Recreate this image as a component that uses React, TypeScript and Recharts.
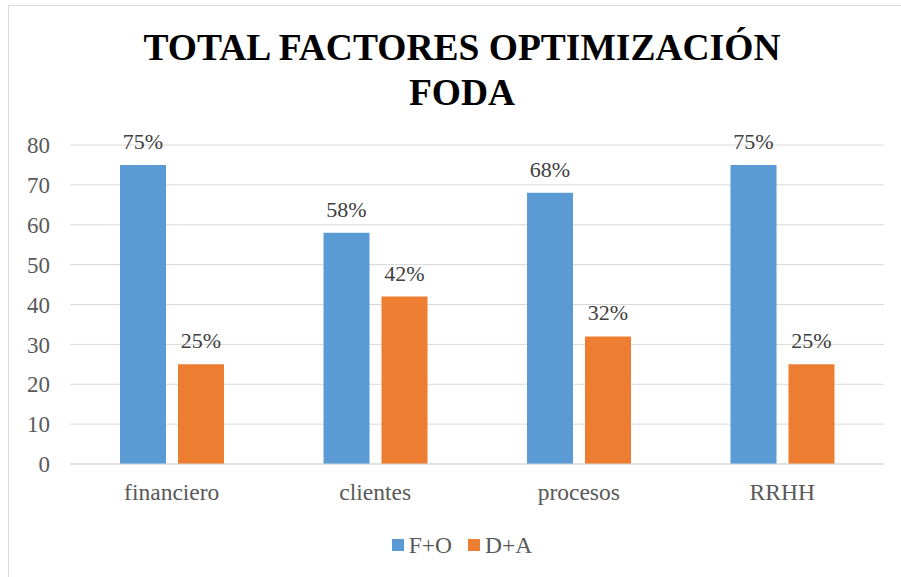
import { BarChart, Bar, XAxis, YAxis, CartesianGrid, LabelList } from 'recharts';

const categories = ['financiero', 'clientes', 'procesos', 'RRHH'];
const foValues = [75, 58, 68, 75];
const daValues = [25, 42, 32, 25];
const yTicks = [0, 10, 20, 30, 40, 50, 60, 70, 80];

const series = [
  { key: 'fo', name: 'F+O', color: '#5B9BD5', values: foValues },
  { key: 'da', name: 'D+A', color: '#ED7D31', values: daValues },
];

const font = "'Liberation Serif', 'Times New Roman', serif";
const gray = '#595959';

const data = categories.map((name, i) => ({
  name,
  fo: foValues[i],
  da: daValues[i],
}));

export default function App() {
  return (
    <div
      style={{
        position: 'fixed',
        left: 0,
        top: 0,
        width: 901,
        height: 577,
        overflow: 'hidden',
        background: '#fff',
        fontFamily: font,
      }}
    >
      <div
        style={{
          position: 'absolute',
          left: 8,
          top: 5,
          width: 940,
          height: 620,
          border: '1px solid #d9d9d9',
        }}
      />
      <div
        style={{
          position: 'absolute',
          left: 0,
          top: 25,
          width: 924,
          textAlign: 'center',
          fontSize: 37.5,
          lineHeight: '45px',
          fontWeight: 'bold',
          color: '#000',
        }}
      >
        <div>TOTAL FACTORES OPTIMIZACIÓN</div>
        <div>FODA</div>
      </div>
      <div style={{ position: 'absolute', left: 0, top: 0 }}>
        <BarChart
          width={901}
          height={577}
          data={data}
          margin={{ top: 145, right: 17, left: 0, bottom: 83 }}
          barSize={46}
          barGap={12}
        >
          <CartesianGrid vertical={false} stroke="#d9d9d9" />
          <XAxis
            dataKey="name"
            height={30}
            tickLine={false}
            tickSize={0}
            tickMargin={19}
            axisLine={{ stroke: '#d9d9d9' }}
            tick={{ fill: gray, fontSize: 23.5, fontFamily: font }}
          />
          <YAxis
            width={70}
            domain={[0, 80]}
            ticks={yTicks}
            interval={0}
            tickLine={false}
            tickSize={0}
            tickMargin={20}
            axisLine={false}
            tick={{ fill: gray, fontSize: 23, fontFamily: font }}
          />
          {series.map((s) => (
            <Bar key={s.key} dataKey={s.key} name={s.name} fill={s.color} isAnimationActive={false}>
              <LabelList
                dataKey={s.key}
                position="top"
                offset={16}
                formatter={(v: number) => `${v}%`}
                fill="#404040"
                fontSize={22}
                fontFamily={font}
              />
            </Bar>
          ))}
        </BarChart>
      </div>
      <div
        style={{
          position: 'absolute',
          left: 0,
          top: 532,
          width: 924,
          display: 'flex',
          justifyContent: 'center',
          alignItems: 'center',
          gap: 16,
          fontSize: 23.5,
          color: gray,
          lineHeight: '26px',
        }}
      >
        {series.map((s) => (
          <div key={s.key} style={{ display: 'flex', alignItems: 'center', gap: 5 }}>
            <span style={{ width: 12, height: 12, background: s.color, display: 'inline-block' }} />
            <span>{s.name}</span>
          </div>
        ))}
      </div>
    </div>
  );
}
